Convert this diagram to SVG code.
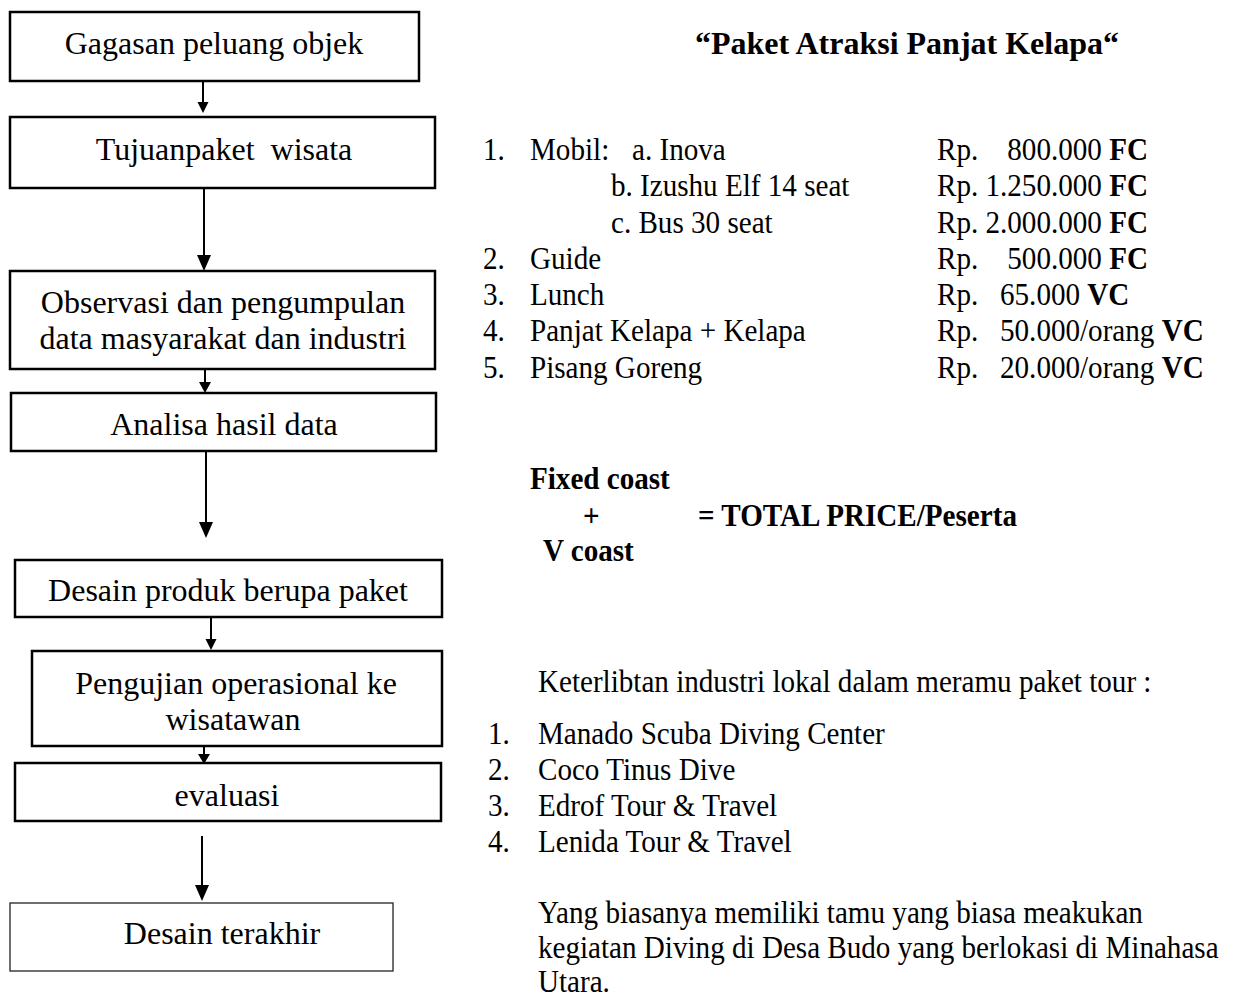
<svg xmlns="http://www.w3.org/2000/svg" width="1240" height="1000" viewBox="0 0 1240 1000">
<style>
.box{fill:#fff;stroke:#000;stroke-width:2.5}
.thin{fill:#fff;stroke:#222;stroke-width:1.3}
.t{font-family:"Liberation Serif","Times New Roman",serif;font-size:32px;fill:#000}
.c{text-anchor:middle}
.b{font-weight:bold}
.e{text-anchor:end}
.ln{stroke:#000;stroke-width:2;fill:none}
</style>
<rect width="1240" height="1000" fill="#fff"/>

<g id="connectors">
<line class="ln" x1="203" y1="82" x2="203" y2="104"/><path d="M197.5,102 L208.5,102 L203,113 Z"/>
<line class="ln" x1="204" y1="188" x2="204" y2="258"/><path d="M197,255 L211,255 L204,271 Z"/>
<line class="ln" x1="205" y1="369" x2="205" y2="384"/><path d="M199,382 L211,382 L205,393 Z"/>
<line class="ln" x1="206" y1="451" x2="206" y2="525"/><path d="M199,522 L213,522 L206,538 Z"/>
<line class="ln" x1="211" y1="617" x2="211" y2="641"/><path d="M205.5,639 L216.5,639 L211,650 Z"/>
<line class="ln" x1="204" y1="746" x2="204" y2="756"/><path d="M198,754 L210,754 L204,764 Z"/>
<line class="ln" x1="202" y1="836" x2="202" y2="888"/><path d="M195,885 L209,885 L202,901 Z"/>
</g>

<g id="n1"><rect class="box" x="10" y="12" width="409" height="69"/><text class="t c" x="214" y="54">Gagasan peluang objek</text></g>
<g id="n2"><rect class="box" x="10" y="117" width="425" height="71"/><text class="t c" x="224" y="160">Tujuanpaket&#160; wisata</text></g>
<g id="n3"><rect class="box" x="10" y="271" width="425" height="98"/><text class="t c" x="223" y="313">Observasi dan pengumpulan</text><text class="t c" x="223" y="349">data masyarakat dan industri</text></g>
<g id="n4"><rect class="box" x="11" y="393" width="425" height="58"/><text class="t c" x="224" y="435">Analisa hasil data</text></g>
<g id="n5"><rect class="box" x="15" y="560" width="427" height="57"/><text class="t c" x="228" y="601">Desain produk berupa paket</text></g>
<g id="n6"><rect class="box" x="32" y="651" width="410" height="95"/><text class="t c" x="236" y="694">Pengujian operasional ke</text><text class="t c" x="233" y="730">wisatawan</text></g>
<g id="n7"><rect class="box" x="15" y="763" width="426" height="58"/><text class="t c" x="227" y="806">evaluasi</text></g>
<g id="n8"><rect class="thin" x="10" y="903" width="383" height="68"/><text class="t c" x="222" y="944">Desain terakhir</text></g>

<g id="title"><text class="t c b" x="907" y="54">“Paket Atraksi Panjat Kelapa“</text></g>

<g id="panel" transform="scale(0.91,1)">
<text class="t" x="530.8" y="160">1.</text><text class="t" x="582.4" y="160">Mobil:</text><text class="t" x="694.5" y="160">a. Inova</text>
<text class="t" x="671.4" y="196.3">b. Izushu Elf 14 seat</text>
<text class="t" x="671.4" y="232.6">c. Bus 30 seat</text>
<text class="t" x="530.8" y="268.9">2.</text><text class="t" x="582.4" y="268.9">Guide</text>
<text class="t" x="530.8" y="305.2">3.</text><text class="t" x="582.4" y="305.2">Lunch</text>
<text class="t" x="530.8" y="341.5">4.</text><text class="t" x="582.4" y="341.5">Panjat Kelapa + Kelapa</text>
<text class="t" x="530.8" y="377.8">5.</text><text class="t" x="582.4" y="377.8">Pisang Goreng</text>

<text class="t" x="1029.7" y="160">Rp.</text><text class="t e" x="1261.5" y="160">800.000 <tspan class="b">FC</tspan></text>
<text class="t" x="1029.7" y="196.3">Rp.</text><text class="t e" x="1261.5" y="196.3">1.250.000 <tspan class="b">FC</tspan></text>
<text class="t" x="1029.7" y="232.6">Rp.</text><text class="t e" x="1261.5" y="232.6">2.000.000 <tspan class="b">FC</tspan></text>
<text class="t" x="1029.7" y="268.9">Rp.</text><text class="t e" x="1261.5" y="268.9">500.000 <tspan class="b">FC</tspan></text>
<text class="t" x="1029.7" y="305.2">Rp.</text><text class="t" x="1098.9" y="305.2">65.000 <tspan class="b">VC</tspan></text>
<text class="t" x="1029.7" y="341.5">Rp.</text><text class="t" x="1098.9" y="341.5">50.000/orang <tspan class="b">VC</tspan></text>
<text class="t" x="1029.7" y="377.8">Rp.</text><text class="t" x="1098.9" y="377.8">20.000/orang <tspan class="b">VC</tspan></text>

<text class="t b" x="582.4" y="489">Fixed coast</text>
<text class="t b" x="640.7" y="526">+</text>
<text class="t b" x="767" y="526">= TOTAL PRICE/Peserta</text>
<text class="t b" x="596.7" y="561">V coast</text>

<text class="t" x="591.2" y="692">Keterlibtan industri lokal dalam meramu paket tour :</text>
<text class="t" x="536.3" y="744">1.</text><text class="t" x="591.2" y="744">Manado Scuba Diving Center</text>
<text class="t" x="536.3" y="780">2.</text><text class="t" x="591.2" y="780">Coco Tinus Dive</text>
<text class="t" x="536.3" y="816">3.</text><text class="t" x="591.2" y="816">Edrof Tour &amp; Travel</text>
<text class="t" x="536.3" y="852">4.</text><text class="t" x="591.2" y="852">Lenida Tour &amp; Travel</text>

<text class="t" x="591.2" y="923">Yang biasanya memiliki tamu yang biasa meakukan</text>
<text class="t" x="591.2" y="958">kegiatan Diving di Desa Budo yang berlokasi di Minahasa</text>
<text class="t" x="591.2" y="992">Utara.</text>
</g>
</svg>
